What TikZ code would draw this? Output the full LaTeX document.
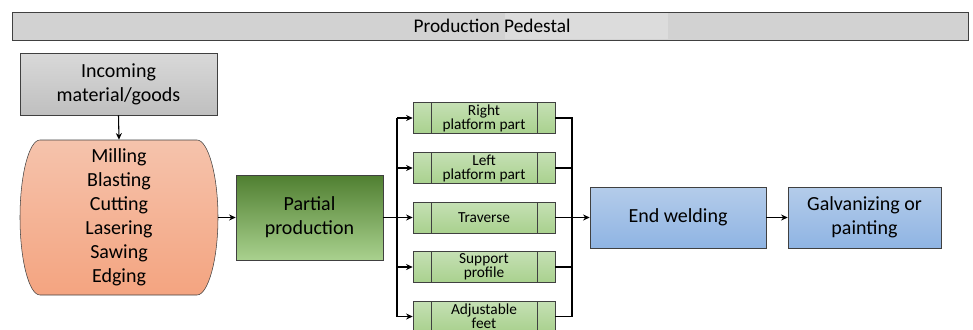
\documentclass[tikz,border=0pt]{standalone}
\usepackage{fontspec}
\setmainfont{Carlito}
\usepackage{xcolor}
\usetikzlibrary{arrows.meta}
\definecolor{titlegray}{HTML}{D2D2D2}
\definecolor{patchgray}{HTML}{DCDCDC}
\definecolor{linegray}{HTML}{404040}
\definecolor{graytop}{HTML}{D9D9D9}
\definecolor{graybot}{HTML}{BFBFBF}
\definecolor{orangetop}{HTML}{F5C3AC}
\definecolor{orangebot}{HTML}{F4A480}
\definecolor{greendark}{HTML}{507F31}
\definecolor{greenmid}{HTML}{70AD47}
\definecolor{greenlight}{HTML}{A9D18E}
\definecolor{parttop}{HTML}{C5E0B4}
\definecolor{bluetop}{HTML}{B4CCEA}
\definecolor{bluebot}{HTML}{8FB4E3}
\tikzset{>={Stealth[length=5pt,width=4.5pt]}}
\tikzset{%
    bigtext/.style={align=center, inner sep=0pt, font=\fontsize{15}{18}\selectfont},
    graybox/.style={bigtext, draw=linegray, top color=graytop, bottom color=graybot},
    greenbox/.style={bigtext, draw=linegray, top color=greendark, middle color=greenmid, bottom color=greenlight},
    bluebox/.style={bigtext, draw=linegray, top color=bluetop, bottom color=bluebot,
        minimum height=45.75pt},
    partbox/.style={%
        draw=linegray, top color=parttop, bottom color=greenlight,
        minimum width=106.5pt, minimum height=23.25pt, inner sep=0pt, align=center,
        font=\fontsize{11.5}{10.5}\selectfont,
        path picture={%
            \draw[linegray]
                ([xshift=13.5pt]path picture bounding box.north west) -- ([xshift=13.5pt]path picture bounding box.south west)
                ([xshift=-13.5pt]path picture bounding box.north east) -- ([xshift=-13.5pt]path picture bounding box.south east);
        }
    },
    flow/.style={thick, black}
}

\begin{document}
\begin{tikzpicture}[x=0.75pt,y=-0.75pt]
    \clip (0,0) rectangle (973,329);
    % title bar
    \node[draw=linegray, fill=titlegray, minimum width=717pt, minimum height=21pt] (title) at (490,26) {};
    \fill[patchgray] (505,13) rectangle (668,39);
    \node[font=\fontsize{14.5}{15}\selectfont] at (492,25.5) {Production Pedestal};
    % material and processing
    \node[graybox, minimum width=147.75pt, minimum height=46.5pt] (incoming) at (118.5,84) {Incoming\\material/goods};
    \shade[top color=orangetop, bottom color=orangebot, draw=linegray]
        (40,140) -- (197,140)
        .. controls (208,140) and (218,175) .. (218,217.5)
        .. controls (218,260) and (208,295) .. (197,295)
        -- (40,295)
        .. controls (29,295) and (20,260) .. (20,217.5)
        .. controls (20,175) and (29,140) .. cycle;
    \node[bigtext, minimum width=148.5pt, minimum height=116.25pt] (processes) at (119,217.5) {Milling\\Blasting\\Cutting\\Lasering\\Sawing\\Edging};
    \node[greenbox, minimum width=110.25pt, minimum height=63.75pt] (partial) at (309.5,217.5) {Partial\\production};
    % parts
    \node[partbox] (rightpart) at (484,118) {Right\\platform part};
    \node[partbox] (leftpart) at (484,168) {Left\\platform part};
    \node[partbox] (traverse) at (484,217.5) {Traverse};
    \node[partbox] (support) at (484,267) {Support\\profile};
    \node[partbox] (feet) at (484,316.5) {Adjustable\\feet};
    % finishing
    \node[bluebox, minimum width=132pt] (welding) at (678,217.5) {End welding};
    \node[bluebox, minimum width=114.75pt] (galvanizing) at (864.5,217.5) {Galvanizing or\\painting};
    \coordinate (split) at (397,217.5);
    \coordinate (join) at (572,217.5);
    % connectors
    \draw[flow,->] (incoming.south) -- (processes.north);
    \draw[flow,->] (processes.east) -- (partial.west);
    \draw[flow] (partial.east) -- (split);
    \draw[flow] (split |- rightpart.west) -- (split |- feet.west);
    \draw[flow,->] (split |- rightpart.west) -- (rightpart.west);
    \draw[flow,->] (split |- leftpart.west) -- (leftpart.west);
    \draw[flow,->] (split) -- (traverse.west);
    \draw[flow,->] (split |- support.west) -- (support.west);
    \draw[flow,->] (split |- feet.west) -- (feet.west);
    \draw[flow] (rightpart.east) -- (join |- rightpart.east) -- (join |- feet.east) -- (feet.east);
    \draw[flow] (leftpart.east) -- (join |- leftpart.east);
    \draw[flow] (support.east) -- (join |- support.east);
    \draw[flow,->] (traverse.east) -- (welding.west);
    \draw[flow,->] (welding.east) -- (galvanizing.west);
\end{tikzpicture}
\end{document}
